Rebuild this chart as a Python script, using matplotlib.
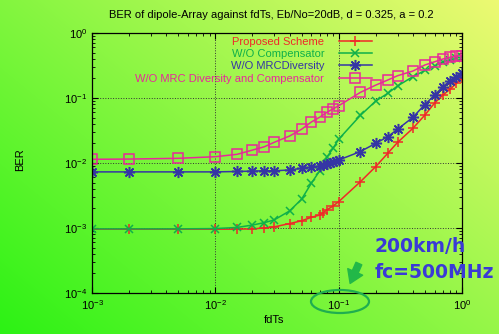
import numpy as np
import matplotlib
matplotlib.use("Agg")
from matplotlib import pyplot as plt
from matplotlib.patches import Ellipse, FancyArrowPatch

plt.rcParams['font.family'] = ['Liberation Sans', 'DejaVu Sans']

# data (fdTs vs BER)
x_main = [0.001, 0.002, 0.005, 0.01, 0.015, 0.02, 0.025, 0.03, 0.04, 0.05, 0.06,
          0.07, 0.08, 0.09, 0.1, 0.15, 0.2, 0.25, 0.3, 0.4, 0.5, 0.6, 0.7, 0.8, 0.9, 1.0]
x_red = [0.001, 0.002, 0.005, 0.01, 0.015, 0.02, 0.025, 0.03, 0.04, 0.05, 0.06,
         0.07, 0.075, 0.08, 0.09, 0.1, 0.15, 0.2, 0.25, 0.3, 0.4, 0.5, 0.6, 0.7, 0.8, 0.9, 1.0]
x_blue = [0.001, 0.002, 0.005, 0.01, 0.015, 0.02, 0.025, 0.03, 0.04, 0.05, 0.06,
          0.07, 0.075, 0.08, 0.085, 0.09, 0.095, 0.1, 0.15, 0.2, 0.25, 0.3, 0.4, 0.5,
          0.6, 0.7, 0.8, 0.9, 1.0]

ber_proposed = [0.00096, 0.00096, 0.00096, 0.00096, 0.00096, 0.00097, 0.00100, 0.00104,
                0.00117, 0.00129, 0.00146, 0.00158, 0.00172, 0.00189, 0.00218, 0.00254,
                0.00515, 0.00883, 0.0141, 0.0207, 0.0342, 0.0547, 0.0838, 0.111, 0.136,
                0.168, 0.201]
ber_no_comp = [0.00097, 0.00097, 0.00097, 0.00098, 0.00102, 0.00111, 0.00121, 0.00133,
               0.00183, 0.00277, 0.00487, 0.00753, 0.0122, 0.0168, 0.0232, 0.0540, 0.090,
               0.118, 0.153, 0.213, 0.265, 0.31, 0.358, 0.385, 0.41, 0.43]
ber_no_mrc = [0.0073, 0.0073, 0.0073, 0.0073, 0.0074, 0.0075, 0.0076, 0.0076, 0.0078,
              0.0083, 0.0086, 0.0090, 0.0093, 0.0095, 0.0099, 0.0102, 0.0107, 0.0111,
              0.0150, 0.0201, 0.0254, 0.033, 0.0505, 0.0794, 0.111, 0.149, 0.185, 0.213,
              0.245]
ber_no_both = [0.0114, 0.0115, 0.0118, 0.0125, 0.0136, 0.0158, 0.0178, 0.0208, 0.026,
               0.033, 0.0427, 0.0505, 0.060, 0.068, 0.076, 0.122, 0.158, 0.189, 0.22,
               0.26, 0.322, 0.361, 0.398, 0.423, 0.443, 0.448]

W, H = 499, 334
fig = plt.figure(figsize=(W / 100, H / 100), dpi=100)

# gradient background (green lower-left -> yellow upper-right)
bg = fig.add_axes([0, 0, 1, 1], zorder=-10)
gx, gy = np.meshgrid(np.linspace(0, 1, W), np.linspace(1, 0, H))
t = 0.55 * gx + 0.45 * gy
c0 = np.array([0.17, 0.95, 0.08])
c1 = np.array([0.93, 0.98, 0.45])
img = c0[None, None, :] + (c1 - c0)[None, None, :] * t[..., None]
bg.imshow(np.clip(img, 0, 1), aspect='auto', extent=[0, 1, 0, 1])
bg.axis('off')

ax = fig.add_axes([92 / W, 41 / H, 370 / W, 260 / H])
ax.set_facecolor('none')

lw = 1.1
ax.plot(x_red, ber_proposed, color='#f02828', lw=lw, marker='+', ms=7, mew=1.1,
        label='Proposed Scheme')
ax.plot(x_main, ber_no_comp, color='#0fb04a', lw=lw, marker='x', ms=6, mew=1.1,
        label='W/O Compensator')
ax.plot(x_blue, ber_no_mrc, color='#3535a5', lw=lw, marker=(8, 2, 0), ms=8, mew=1.1,
        label='W/O MRCDiversity')
ax.plot(x_main, ber_no_both, color='#e8289a', lw=lw, marker='s', ms=6.5, mew=1.1,
        mfc='none', label='W/O MRC Diversity and Compensator')

ax.set_xscale('log')
ax.set_yscale('log')
ax.set_xlim(1e-3, 1)
ax.set_ylim(1e-4, 1)
ax.tick_params(which='both', direction='in', top=True, right=True, labelsize=8)
ax.tick_params(which='major', length=4, width=0.8)
ax.tick_params(which='minor', length=2, width=0.6)
ax.grid(True, which='major', ls=':', color='#333333', lw=0.7)
for s in ax.spines.values():
    s.set_linewidth(0.9)

ax.legend(loc='upper right', bbox_to_anchor=((372 - 92) / 370, 0.985), frameon=False,
          markerfirst=False, labelcolor='linecolor', fontsize=8, handlelength=3,
          handletextpad=1.3, labelspacing=0.2, borderpad=0, borderaxespad=0)

fig.text(271.5 / W, 1 - 15 / H, 'BER of dipole-Array against fdTs, Eb/No=20dB, d = 0.325, a = 0.2',
         ha='center', va='center', fontsize=8)
fig.text(20 / W, 1 - 160 / H, 'BER', rotation=90, ha='center', va='center', fontsize=8)
fig.text(274.5 / W, 1 - 320 / H, 'fdTs', ha='center', va='center', fontsize=8)

# annotation: speed / carrier
fig.text(375 / W, 1 - 246 / H, '200km/h', color='#3a3ad6', fontsize=13.5,
         fontweight='bold', family='DejaVu Sans', ha='left', va='center')
fig.text(375 / W, 1 - 272 / H, 'fc=500MHz', color='#3a3ad6', fontsize=13.5,
         fontweight='bold', family='DejaVu Sans', ha='left', va='center')
fig.add_artist(FancyArrowPatch((360 / W, 1 - 261 / H), (349 / W, 1 - 286 / H),
                               transform=fig.transFigure, color='#22b848',
                               arrowstyle='simple,head_length=0.7,head_width=0.9,tail_width=0.35',
                               mutation_scale=13))
fig.add_artist(Ellipse((340 / W, 1 - 301.5 / H), 58 / W, 23 / H, transform=fig.transFigure,
                       fill=False, ec='#1fae50', lw=1.6))

fig.savefig('out.png', dpi=100)
